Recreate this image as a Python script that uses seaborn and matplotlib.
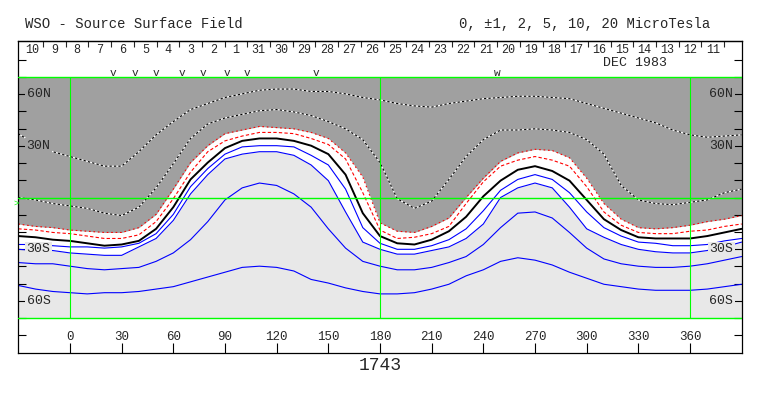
import numpy as np
import matplotlib
matplotlib.use("Agg")
import matplotlib.pyplot as plt
import seaborn as sns

sns.set_style("white")
plt.rcParams['font.family'] = ['Liberation Mono', 'DejaVu Sans']

# Carrington longitude grid (deg); contour values are sine latitude
lon = np.arange(-30, 391, 10)

plus10 = [0.53, 0.44, 0.38, 0.34, 0.30, 0.26, 0.26, 0.38, 0.52, 0.63, 0.73, 0.78, 0.83, 0.86,
          0.89, 0.90, 0.90, 0.88, 0.88, 0.86, 0.83, 0.81, 0.78, 0.76, 0.75, 0.78, 0.80, 0.82,
          0.83, 0.84, 0.84, 0.83, 0.82, 0.78, 0.74, 0.70, 0.66, 0.62, 0.56, 0.52, 0.50, 0.51, 0.52]
plus5 = [0.00, -0.02, -0.05, -0.07, -0.09, -0.13, -0.15, -0.08, 0.08, 0.28, 0.49, 0.61, 0.66, 0.69,
         0.72, 0.73, 0.71, 0.68, 0.63, 0.57, 0.48, 0.29, -0.01, -0.09, -0.03, 0.15, 0.34, 0.48,
         0.56, 0.56, 0.57, 0.56, 0.54, 0.48, 0.36, 0.10, -0.02, -0.05, -0.06, -0.04, -0.02, 0.04, 0.07]
plus2 = [-0.22, -0.24, -0.25, -0.27, -0.28, -0.29, -0.29, -0.25, -0.14, 0.07, 0.29, 0.43, 0.53, 0.56,
         0.59, 0.58, 0.57, 0.54, 0.49, 0.37, 0.17, -0.21, -0.28, -0.29, -0.24, -0.17, 0.00, 0.16,
         0.30, 0.37, 0.40, 0.39, 0.33, 0.16, -0.05, -0.18, -0.25, -0.26, -0.25, -0.23, -0.20, -0.18, -0.15]
plus1 = [-0.26, -0.27, -0.29, -0.30, -0.32, -0.34, -0.34, -0.31, -0.20, -0.01, 0.21, 0.38, 0.47, 0.51,
         0.54, 0.54, 0.53, 0.49, 0.44, 0.32, 0.04, -0.27, -0.34, -0.33, -0.30, -0.24, -0.05, 0.13,
         0.26, 0.31, 0.34, 0.31, 0.26, 0.09, -0.12, -0.23, -0.29, -0.30, -0.30, -0.28, -0.27, -0.24, -0.22]
neutral = [-0.32, -0.33, -0.35, -0.36, -0.38, -0.40, -0.39, -0.36, -0.26, -0.08, 0.15, 0.29, 0.41, 0.47,
           0.49, 0.49, 0.47, 0.43, 0.36, 0.19, -0.13, -0.32, -0.38, -0.39, -0.35, -0.28, -0.16, 0.01,
           0.14, 0.23, 0.26, 0.22, 0.14, -0.02, -0.18, -0.27, -0.33, -0.34, -0.34, -0.34, -0.32, -0.29, -0.26]
minus1 = [-0.39, -0.39, -0.40, -0.41, -0.41, -0.42, -0.41, -0.38, -0.30, -0.14, 0.09, 0.24, 0.36, 0.42,
          0.43, 0.43, 0.42, 0.35, 0.27, 0.07, -0.25, -0.38, -0.43, -0.43, -0.40, -0.35, -0.26, -0.11,
          0.06, 0.15, 0.19, 0.15, 0.04, -0.12, -0.25, -0.32, -0.37, -0.38, -0.40, -0.40, -0.39, -0.36, -0.34]
minus2 = [-0.43, -0.44, -0.44, -0.46, -0.47, -0.48, -0.48, -0.41, -0.34, -0.19, 0.03, 0.19, 0.32, 0.36,
          0.38, 0.38, 0.35, 0.27, 0.14, -0.12, -0.37, -0.43, -0.47, -0.47, -0.44, -0.41, -0.34, -0.22,
          0.00, 0.08, 0.12, 0.08, -0.08, -0.26, -0.33, -0.39, -0.43, -0.45, -0.46, -0.46, -0.44, -0.41, -0.37]
minus5 = [-0.54, -0.55, -0.55, -0.57, -0.59, -0.60, -0.59, -0.58, -0.53, -0.46, -0.35, -0.20, -0.02, 0.08,
          0.12, 0.10, 0.03, -0.08, -0.26, -0.42, -0.53, -0.57, -0.60, -0.60, -0.58, -0.54, -0.49, -0.39,
          -0.25, -0.13, -0.12, -0.17, -0.29, -0.42, -0.51, -0.55, -0.57, -0.58, -0.58, -0.57, -0.55, -0.52, -0.49]
minus10 = [-0.73, -0.76, -0.78, -0.79, -0.80, -0.79, -0.79, -0.78, -0.76, -0.74, -0.70, -0.66, -0.62, -0.58,
           -0.57, -0.58, -0.61, -0.68, -0.71, -0.75, -0.78, -0.80, -0.80, -0.79, -0.76, -0.72, -0.65, -0.60,
           -0.53, -0.50, -0.52, -0.56, -0.62, -0.67, -0.72, -0.74, -0.76, -0.77, -0.77, -0.77, -0.76, -0.74, -0.72]

# observation markers and calendar strip
obs_lon = [25, 38, 50, 65, 77, 91, 103, 143]
obs_double = [248]
days = ["10", "9", "8", "7", "6", "5", "4", "3", "2", "1", "31", "30", "29", "28", "27", "26",
        "25", "24", "23", "22", "21", "20", "19", "18", "17", "16", "15", "14", "13", "12", "11"]
day0, day_step = -22.2, 13.18
lon_ticks = [0, 30, 60, 90, 120, 150, 180, 210, 240, 270, 300, 330, 360]
lat_labels = {"60N": 6 / 7, "30N": 3 / 7, "30S": -3 / 7, "60S": -6 / 7}

DARK = "#a0a0a0"
LIGHT = "#e8e8e8"
GREEN = "#00ff00"

W, H = 763, 396
fig = plt.figure(figsize=(W / 100, H / 100), dpi=100)
ax = fig.add_axes([18.3 / W, (H - 353) / H, (741.7 - 18.3) / W, (353 - 41) / H])
ax.set_xlim(-30, 390)
ax.set_ylim(-1.2905, 1.2988)

# polarity shading
ax.fill_between(lon, -1, 1, color=LIGHT, lw=0, zorder=0)
ax.fill_between(lon, minus2, 1, color="white", lw=0, zorder=0.1)
ax.fill_between(lon, plus2, 1, color=DARK, lw=0, zorder=0.2)

# positive contours inside grey: black/white dotted
for vals in (plus10, plus5):
    sns.lineplot(x=lon, y=vals, ax=ax, color="white", lw=0.8, zorder=2)
    sns.lineplot(x=lon, y=vals, ax=ax, color="black", lw=0.8, linestyle=(0, (2, 2)), zorder=2.1)

sns.lineplot(x=lon, y=plus2, ax=ax, color="red", lw=0.8, linestyle=(0, (1.5, 2.5)), zorder=2)
sns.lineplot(x=lon, y=plus1, ax=ax, color="red", lw=0.8, linestyle=(0, (3, 2)), zorder=2)
sns.lineplot(x=lon, y=neutral, ax=ax, color="black", lw=1.4, zorder=2.2)
for vals in (minus1, minus2, minus5, minus10):
    sns.lineplot(x=lon, y=vals, ax=ax, color="blue", lw=0.8, zorder=2)

# grid lines
for y in (-1, 0, 1):
    ax.axhline(y, color=GREEN, lw=1.0, zorder=3)
for x in (0, 180, 360):
    ax.plot([x, x], [-1, 1], color=GREEN, lw=0.8, zorder=3)

# frame and ticks
for sp in ax.spines.values():
    sp.set_color("black")
    sp.set_linewidth(0.9)
ax.set_yticks(np.arange(-8, 9) / 7)
ax.set_xticks(lon_ticks)
ax.tick_params(axis="y", which="both", left=True, right=True, direction="in",
               length=5.8, width=0.8, labelleft=False, color="black")
ax.tick_params(axis="x", bottom=True, top=False, direction="in", length=7,
               width=0.8, labelbottom=False, color="black")
ax.set_xlabel("")
ax.set_ylabel("")

top = ax.secondary_xaxis("top")
top.set_xticks([day0 + day_step * (i + 0.5) for i in range(len(days))])
top.tick_params(direction="in", length=4.5, width=0.8, labeltop=False)
top.spines["top"].set_linewidth(0.9)

for i, d in enumerate(days):
    ax.text(day0 + day_step * i, 1.225, d, ha="center", va="center", fontsize=8.5)
ax.text(328, 1.115, "DEC 1983", ha="center", va="center", fontsize=9.5)

for l in lon_ticks:
    ax.text(l, -1.158, str(l), ha="center", va="center", fontsize=9)

for lbl, s in lat_labels.items():
    bg = DARK if lbl.endswith("N") else LIGHT
    box = dict(boxstyle="square,pad=0.12", fc=bg, ec="none")
    ax.annotate(lbl, xy=(0, s), xycoords=ax.get_yaxis_transform(), xytext=(6, 0),
                textcoords="offset points", ha="left", va="center", fontsize=9.5, bbox=box, zorder=4)
    ax.annotate(lbl, xy=(1, s), xycoords=ax.get_yaxis_transform(), xytext=(-6, 0),
                textcoords="offset points", ha="right", va="center", fontsize=9.5, bbox=box, zorder=4)

for l in obs_lon:
    ax.text(l, 1.01, "v", ha="center", va="baseline", fontsize=8)
for l in obs_double:
    ax.text(l, 1.01, "w", ha="center", va="baseline", fontsize=8)
ax.text(-31.5, -0.05, ">", ha="center", va="center", fontsize=6.5, color=GREEN, clip_on=False)

fig.text(25 / W, 1 - 24 / H, "WSO - Source Surface Field", ha="left", va="center", fontsize=10)
fig.text(710 / W, 1 - 24 / H, "0, \u00b11, 2, 5, 10, 20 MicroTesla", ha="right", va="center", fontsize=10)
fig.text(380 / W, 1 - 366 / H, "1743", ha="center", va="center", fontsize=13)

fig.savefig("out.png", dpi=100)
